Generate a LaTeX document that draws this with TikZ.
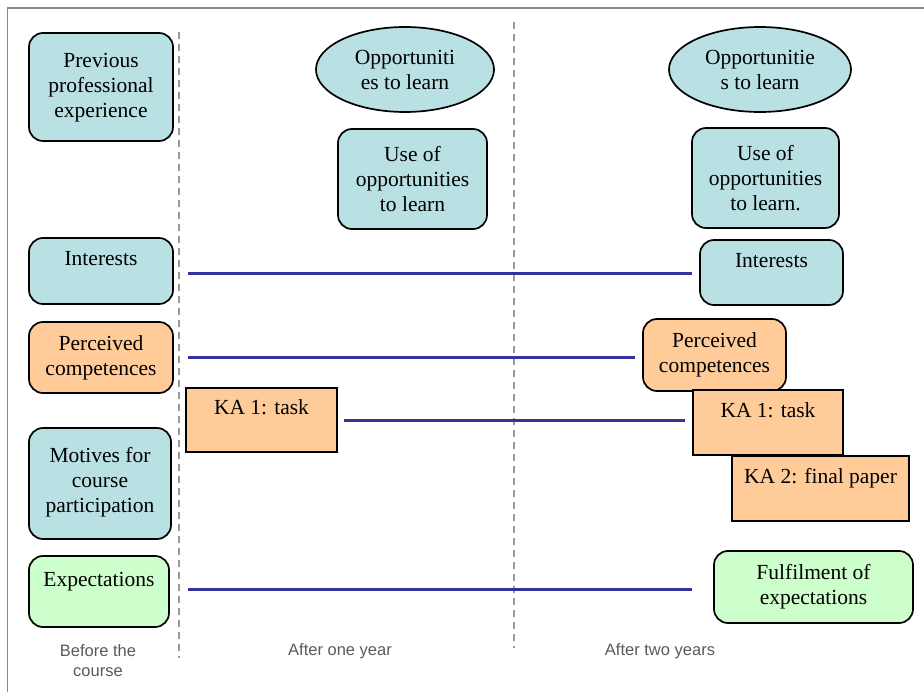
\documentclass[tikz,border=0pt]{standalone}
\usepackage{fontspec}
\setmainfont{Liberation Serif}
\newfontfamily\labelfont{Liberation Sans}
\usetikzlibrary{shapes.geometric,calc}
\definecolor{cblue}{HTML}{B9E0E3}
\definecolor{corange}{HTML}{FFCC99}
\definecolor{cgreen}{HTML}{CCFFCC}
\definecolor{clink}{HTML}{333399}
\definecolor{cdash}{HTML}{999999}
\definecolor{clabel}{HTML}{5A5A5A}
\definecolor{cframe}{HTML}{888888}
\tikzset{
  box/.style={draw=black, line width=1.7pt, rounded corners=14pt, align=center, inner sep=0pt,
    font=\fontsize{21.5}{25}\selectfont},
  sqbox/.style={box, rounded corners=0pt},
  oval/.style={draw=black, line width=1.7pt, ellipse, align=center, inner sep=0pt, fill=cblue,
    font=\fontsize{21.5}{25}\selectfont},
  bluebox/.style={box, fill=cblue},
  orangebox/.style={box, fill=corange},
  greenbox/.style={box, fill=cgreen},
  link/.style={draw=clink, line width=3pt},
  divider/.style={draw=cdash, line width=2pt, dash pattern=on 7pt off 5pt},
  period/.style={text=clabel, align=center, font=\labelfont\fontsize{16.5}{20}\selectfont}
}
\begin{document}
\begin{tikzpicture}[x=1pt,y=-1pt]
\path[use as bounding box] (0,0) rectangle (924,692);
\clip (0,0) rectangle (924,692);
\draw[cframe, line width=1.5pt] (7.5,8) rectangle (940,710);

% dividers
\coordinate (d1a) at (179,32); \coordinate (d1b) at (179,658);
\coordinate (d2a) at (514,22); \coordinate (d2b) at (514,648);
\draw[divider] (d1a) -- (d1b);
\draw[divider] (d2a) -- (d2b);

% left column
\node[bluebox, minimum width=144pt, minimum height=108pt] (prev) at (101,87) {Previous\\professional\\experience\\[-21pt]\mbox{}};
\node[bluebox, minimum width=144pt, minimum height=66pt] (intL) at (101,271) {Interests\\\mbox{}};
\node[orangebox, minimum width=144pt, minimum height=71pt] (perL) at (101,357.5) {Perceived\\competences};
\node[orangebox, sqbox, minimum width=151pt, minimum height=64pt] (kaL) at (261.5,420) {KA 1: task\\\mbox{}};
\node[bluebox, minimum width=142pt, minimum height=111pt] (motL) at (100,483.5) {Motives for\\course\\participation\\[-17pt]\mbox{}};
\node[greenbox, minimum width=140pt, minimum height=71pt] (expL) at (99,591.5) {Expectations\\\mbox{}};

% middle column
\node[oval, minimum width=178pt, minimum height=85pt] (oppM) at (405,69.5) {Opportuniti\\es to learn};
\node[bluebox, minimum width=149pt, minimum height=100pt] (useM) at (412.5,179) {Use of\\opportunities\\to learn};

% right column
\node[oval, minimum width=182pt, minimum height=85pt] (oppR) at (760,69.5) {Opportunitie\\s to learn};
\node[bluebox, minimum width=147pt, minimum height=100pt] (useR) at (765.5,178) {Use of\\opportunities\\to learn.};
\node[bluebox, minimum width=143pt, minimum height=65pt] (intR) at (771.5,272.5) {Interests\\\mbox{}};
\node[orangebox, minimum width=143pt, minimum height=72pt] (perR) at (714.5,355) {Perceived\\competences};
\node[orangebox, sqbox, minimum width=150pt, minimum height=65pt] (kaR) at (768,422.5) {KA 1: task\\\mbox{}};
\node[orangebox, sqbox, minimum width=177pt, minimum height=65pt] (kaTwo) at (820.5,488.5) {KA 2: final paper\\\mbox{}};
\node[greenbox, minimum width=199pt, minimum height=72pt] (fulR) at (813.5,587) {Fulfilment of\\expectations};

% links
\draw[link] ($(intL.east)+(14,3)$) -- ($(intL.east -| intR.west)+(-7,3)$);
\draw[link] ($(perL.east)+(14,0.5)$) -- ($(perL.east -| perR.west)+(-7,0.5)$);
\draw[link] ($(kaL.east)+(6,1)$) -- ($(kaL.east -| kaR.west)+(-7,1)$);
\draw[link] ($(expL.east)+(18,-2.5)$) -- ($(expL.east -| fulR.west)+(-21,-2.5)$);

% period labels
\node[period] (p0) at (98,661) {Before the\\course};
\node[period] (p1) at (340,651) {After one year};
\node[period] (p2) at (660,651) {After two years};
\end{tikzpicture}
\end{document}
